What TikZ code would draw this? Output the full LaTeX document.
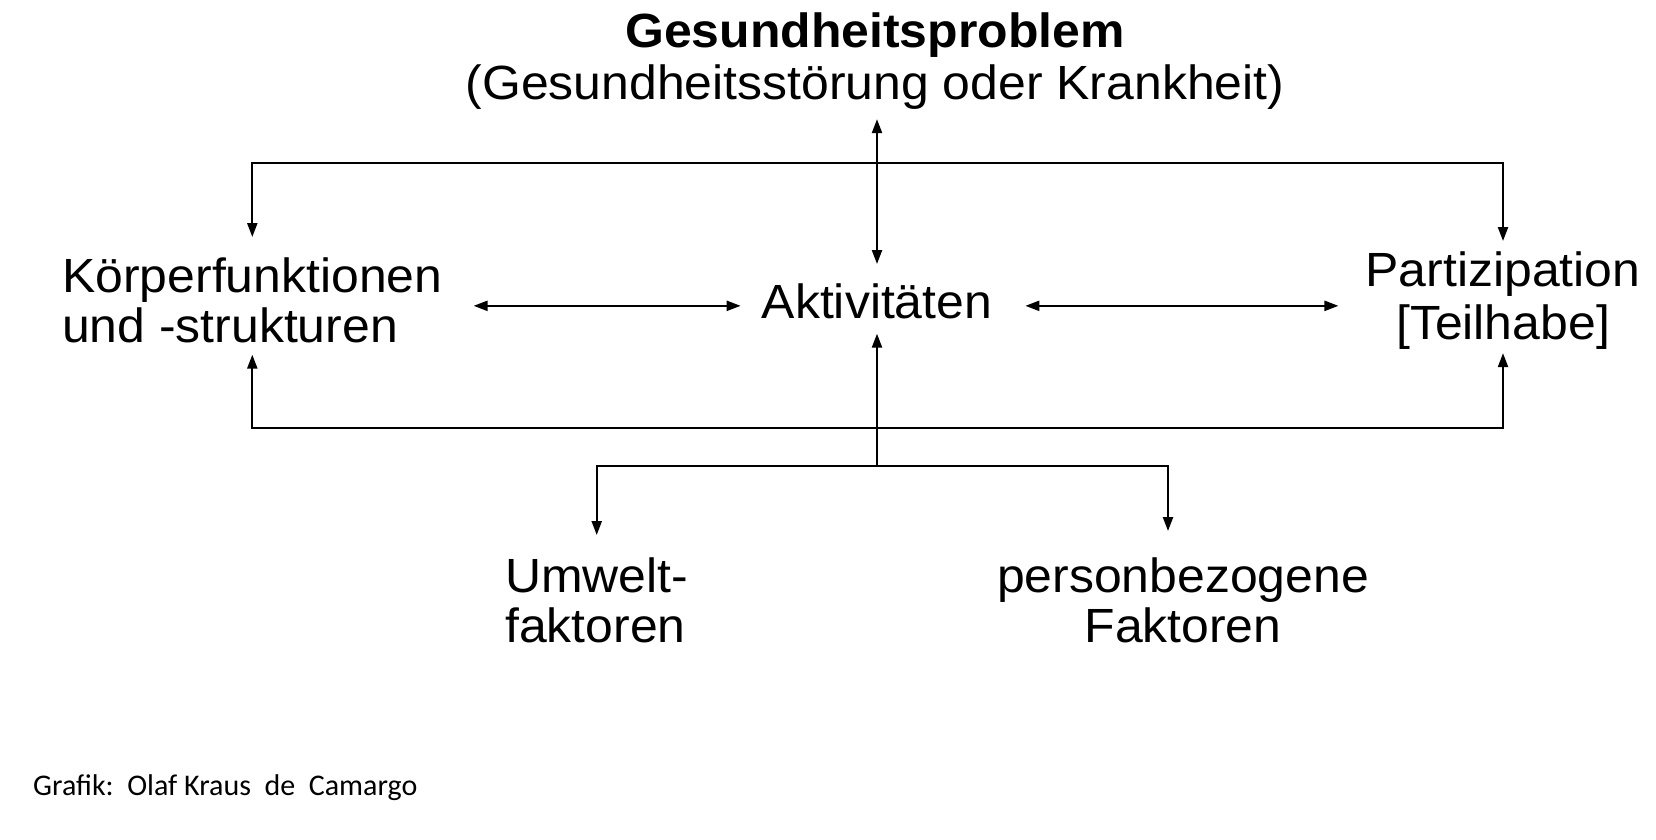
\documentclass[tikz,border=0pt]{standalone}
\usepackage{fontspec}
\setmainfont{Liberation Sans}[FakeStretch=1.04]
\newfontfamily\calfont{Carlito}
\usetikzlibrary{arrows.meta,calc}
\begin{document}
\begin{tikzpicture}[x=1pt,y=-1pt,
  lbl/.style={inner sep=0pt, anchor=base, font=\fontsize{48}{50}\selectfont},
  conn/.style={line width=2.2pt, >={Triangle[length=14pt,width=10pt]}}]
\useasboundingbox[fill=white] (0,0) rectangle (1656,840);

% texts (anchored at the baseline of their last line)
\node[lbl, align=center] (gp) at (875,100) {\textbf{Gesundheitsproblem}\\[2pt](Gesundheitsstörung oder Krankheit)};
\node[lbl, align=left, anchor=base west] (kf) at (62,342) {Körperfunktionen\\und -strukturen};
\node[lbl] (akt) at (877,318) {Aktivitäten};
\node[lbl, align=center] (part) at (1503,339) {Partizipation\\[3pt][Teilhabe]};
\node[lbl, align=left, anchor=base west] (uf) at (505,642) {Umwelt-\\faktoren};
\node[lbl, align=center] (pf) at (1183,642) {personbezogene\\Faktoren};
\node[inner sep=0pt, anchor=base west, font=\calfont\fontsize{30}{36}\selectfont] (credit) at (33,795) {Grafik:\ \ Olaf Kraus\ \ de\ \ Camargo};

% bus coordinates
\coordinate (tb) at (877,163);
\coordinate (bb) at (877,428);
\coordinate (br) at (877,466);
\coordinate (aw) at ([yshift=-5pt]akt.west);
\coordinate (ae) at ([yshift=-5pt]akt.east);

% connectors
\draw[conn,<->,shorten <=9pt,shorten >=19pt] (akt.north |- gp.south) -- (akt.north);
\draw[conn,->,shorten >=15pt] (br) -- (akt.south);
\draw[conn,<->,shorten <=20pt,shorten >=10pt] (kf.north) |- (tb) -| (part.north);
\draw[conn,<->,shorten <=12pt,shorten >=4pt] (kf.south) |- (bb) -| (part.south);
\draw[conn,<->,shorten <=31pt,shorten >=21pt] (aw -| kf.east) -- (aw);
\draw[conn,<->,shorten <=33pt,shorten >=27pt] (ae) -- (ae -| part.west);
\draw[conn,->,shorten >=22pt] (br) -| (uf.north);
\draw[conn,->,shorten >=26pt] (br) -| ([xshift=-15pt]pf.north);
\end{tikzpicture}
\end{document}
